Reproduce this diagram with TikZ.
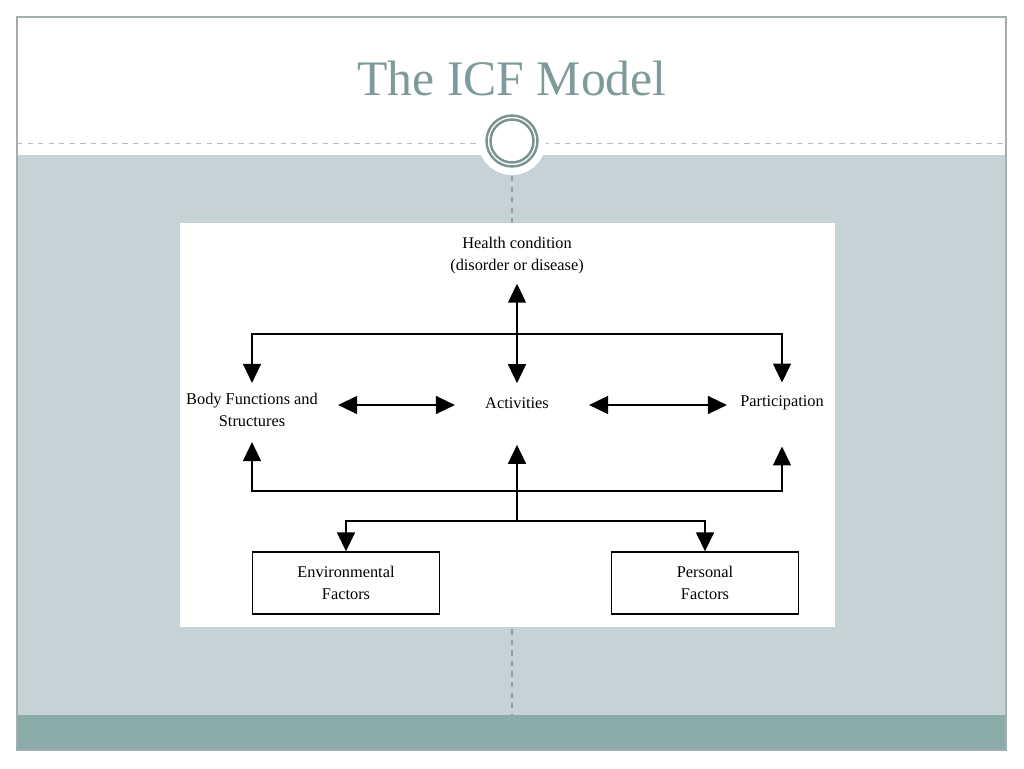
\documentclass[tikz,border=0pt]{standalone}
\usepackage{fontspec}
\setmainfont{Liberation Serif}
\usetikzlibrary{arrows.meta}

\definecolor{slate}{HTML}{C5D3D6}
\definecolor{band}{HTML}{8AABAA}
\definecolor{frameline}{HTML}{A3AFAF}
\definecolor{ringcol}{HTML}{7C9393}
\definecolor{titlecol}{HTML}{7E9A9A}

\tikzset{
  lbl/.style={font=\fontsize{9.3}{12.5}\selectfont, align=center, inner sep=0pt},
  factorbox/.style={draw, line width=0.8pt, minimum width=3.74cm, minimum height=1.24cm,
    align=center, font=\fontsize{9.3}{12.5}\selectfont},
  link/.style={line width=0.85pt, -{Triangle[width=0.36cm,length=0.38cm]}},
  twoway/.style={link, {Triangle[width=0.36cm,length=0.38cm]}-{Triangle[width=0.36cm,length=0.38cm]}}
}

\begin{document}
\begin{tikzpicture}[x=0.02cm, y=-0.02cm]
  \useasboundingbox (0,0) rectangle (1024,768);

  % slide
  \fill[white] (17,17) rectangle (1006,750);
  \fill[slate] (17,155) rectangle (1006,715);
  \fill[band] (17,715) rectangle (1006,750);
  \draw[frameline, line width=0.6pt] (17,17) rectangle (1006,750);
  \draw[gray!55, dashed, line width=0.5pt] (17,143) -- (1006,143);
  \draw[gray!80, dashed, line width=0.9pt] (512,176) -- (512,715);
  \fill[white] (512,141) circle (0.68cm);
  \draw[ringcol, line width=1.4pt] (512,141) circle (0.51cm);
  \draw[ringcol, line width=1.4pt] (512,141) circle (0.43cm);
  \node[titlecol, font=\fontsize{28.3}{31}\selectfont] (title) at (512,78) {The ICF Model};

  % diagram panel
  \fill[white] (180,223) rectangle (835,627);

  \node[lbl] (hc) at (517,256) {Health condition\\(disorder or disease)};
  \node[lbl] (bfs) at (252,410) {Body Functions and\\Structures};
  \node[lbl] (act) at (517,403) {Activities};
  \node[lbl] (par) at (782,403) {Participation};
  \node[factorbox] (env) at (346,583) {Environmental\\Factors};
  \node[factorbox] (pers) at (705,583) {Personal\\Factors};

  \coordinate (upper) at (517,334);
  \coordinate (lower) at (517,491);
  \coordinate (split) at (517,521);
  \coordinate (midl) at ([yshift=-0.04cm]act.west);
  \coordinate (midr) at ([yshift=-0.04cm]act.east);

  \draw[twoway, shorten <=0.18cm, shorten >=0.28cm] (hc) -- (act);
  \draw[link, shorten >=0.2cm] (upper) -| (bfs);
  \draw[link, shorten >=0.26cm] (upper) -| (par);
  \draw[twoway, shorten <=0.4cm, shorten >=0.6cm] (bfs.east |- midl) -- (midl);
  \draw[twoway, shorten <=0.8cm, shorten >=0.26cm] (midr) -- (par.west |- midr);
  \draw[link, shorten >=0.3cm] (lower) -| (bfs);
  \draw[link, shorten >=0.72cm] (lower) -| (par);
  \draw[link, shorten >=0.72cm] (split) -- (act);
  \draw[link] (split) -| (env);
  \draw[link] (split) -| (pers);
\end{tikzpicture}
\end{document}
